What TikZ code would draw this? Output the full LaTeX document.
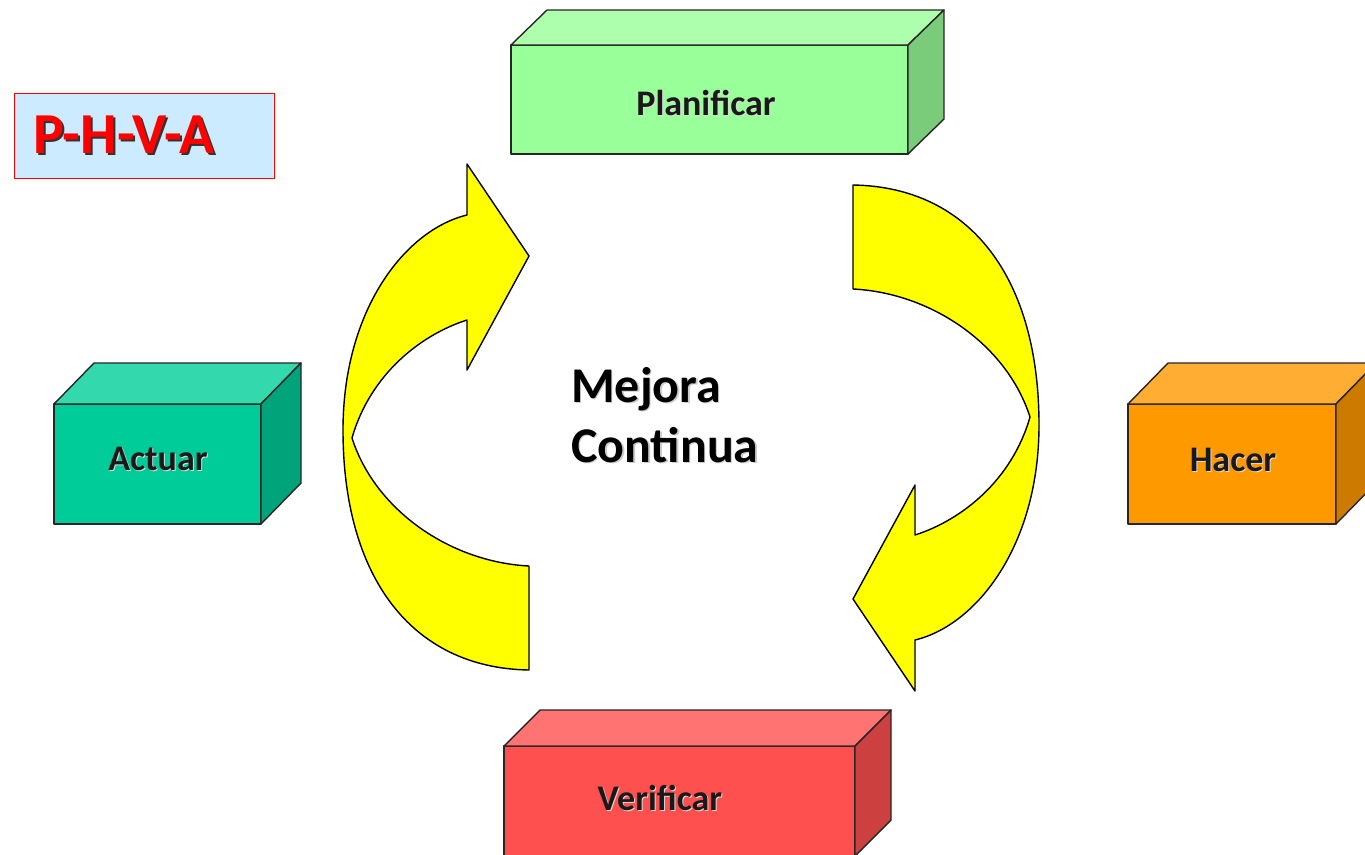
\documentclass[tikz,border=0pt]{standalone}
\usepackage{fontspec}
\setmainfont{Carlito}
\definecolor{planFront}{HTML}{99FF99}
\definecolor{planTop}{HTML}{ADFFAD}
\definecolor{planSide}{HTML}{7ACC7A}
\definecolor{actFront}{HTML}{00CC99}
\definecolor{actTop}{HTML}{33D8AD}
\definecolor{actSide}{HTML}{00A37A}
\definecolor{hacFront}{HTML}{FF9900}
\definecolor{hacTop}{HTML}{FFAD33}
\definecolor{hacSide}{HTML}{CC7A00}
\definecolor{verFront}{HTML}{FF5050}
\definecolor{verTop}{HTML}{FF7373}
\definecolor{verSide}{HTML}{CC4040}
\definecolor{phvaBlue}{HTML}{CCEBFF}
\definecolor{cycleYellow}{HTML}{FFFF00}
% text with a soft drop shadow: #1 shadow colour, #2 offset, #3 text
\newcommand\shadowtext[3]{\makebox[0pt][l]{\raisebox{-#2}{\hspace{#2}\textcolor{#1}{#3}}}#3}
% a box drawn as a cuboid: front face node plus top and side faces
% #1 name, #2 centre, #3 width, #4 height, #5 depth dx, #6 depth dy, #7 colour prefix
\newcommand\cuboid[7]{%
  \node[face, fill=#7Front, minimum width=#3pt, minimum height=#4pt] (#1) at #2 {};
  \draw[face, fill=#7Top] (#1.north west) -- ++(#5,-#6) -- ++(#3,0) -- (#1.north east) -- cycle;
  \draw[face, fill=#7Side] (#1.north east) -- ++(#5,-#6) -- ++(0,#4) -- (#1.south east) -- cycle;}
\begin{document}
\begin{tikzpicture}[x=1pt,y=-1pt,
  face/.style={draw=black!85, line width=1.4pt, line join=round, inner sep=0pt, outer sep=0pt},
  lbl/.style={font=\fontsize{36}{43}\selectfont\bfseries, text=black!90, inner sep=0pt, anchor=base},
  flow/.style={draw=black, fill=cycleYellow, line width=1.4pt, line join=round}]
\useasboundingbox (0,0) rectangle (1365,854);

% title box
\node[draw=red, line width=1pt, fill=phvaBlue, minimum width=260pt, minimum height=85pt, inner sep=0pt] (phva) at (144,135.5) {};
\node[anchor=base west, inner sep=0pt, font=\fontsize{58}{69}\selectfont\bfseries, text=red] (phvaL) at (33,153) {\shadowtext{black!80}{2pt}{P-H-V-A}};

% the four stages
\cuboid{plan}{(709.5,99.5)}{397}{109}{36}{35}{plan}
\cuboid{act}{(157.5,464)}{207}{120}{40}{41}{act}
\cuboid{hac}{(1232,464)}{208}{120}{40}{41}{hac}
\cuboid{ver}{(679.5,801)}{351}{110}{36}{36}{ver}

\node[lbl] (planL) at (706,115) {\shadowtext{black!15}{1pt}{Planificar}};
\node[lbl] (actL) at (158,470) {\shadowtext{black!15}{1pt}{Actuar}};
\node[lbl] (hacL) at (1233,471) {\shadowtext{black!15}{1pt}{Hacer}};
\node[lbl] (verL) at (660,810) {\shadowtext{black!15}{1pt}{Verificar}};

% centre text
\node[anchor=north west, inner sep=0pt, align=left, font=\fontsize{50}{60}\selectfont\bfseries] (mejora) at (571,367)
  {\shadowtext{black!20}{1.5pt}{Mejora}\\\shadowtext{black!20}{1.5pt}{Continua}};

% curved arrows of the cycle
\def\cyclearrow{(529,670) -- (529,566)
  .. controls (450,562) and (375,510) .. (352,438)
  .. controls (370,375) and (420,335) .. (467,320)
  -- (467,370) -- (529,256) -- (467,164) -- (467,215)
  .. controls (405,230) and (343,310) .. (343,430)
  .. controls (343,575) and (410,668) .. (529,670) -- cycle}
\draw[flow] \cyclearrow;
\begin{scope}[rotate around={180:(691,427.5)}]
  \draw[flow] \cyclearrow;
\end{scope}
\end{tikzpicture}
\end{document}
